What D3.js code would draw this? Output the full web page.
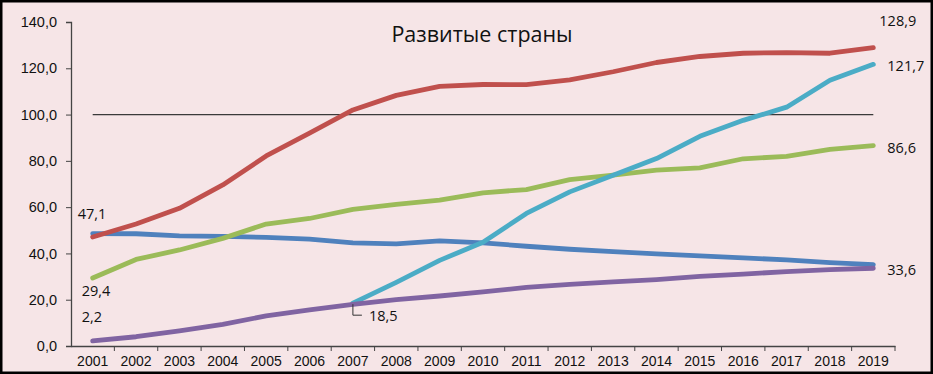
<!DOCTYPE html>
<html>
<head>
<meta charset="utf-8">
<script src="https://cdn.jsdelivr.net/npm/d3@7"></script>
<style>
  html, body { margin: 0; padding: 0; background: #fff; }
  svg { display: block; font-family: "Open Sans", "Noto Sans", sans-serif; }
</style>
</head>
<body>
<div id="chart"></div>
<script>
// ---- data ----
const years = d3.range(2001, 2020).map(String);
const redSeries = [47.1, 52.7, 59.5, 69.6, 82.1, 92.0, 102.0, 108.3, 112.2, 113.0, 112.9, 115.0, 118.5, 122.5, 125.1, 126.5, 126.8, 126.5, 128.9];
const blueSeries = [48.6, 48.5, 47.6, 47.4, 46.9, 46.2, 44.6, 44.1, 45.4, 44.6, 43.1, 41.8, 40.8, 39.8, 38.9, 38.1, 37.2, 36.0, 35.2];
const greenSeries = [29.4, 37.4, 41.5, 46.5, 52.7, 55.1, 59.0, 61.2, 63.0, 66.2, 67.6, 71.9, 73.8, 76.0, 77.0, 80.9, 81.9, 85.0, 86.6];
const cyanSeries = [null, null, null, null, null, null, 18.5, 27.5, 37.0, 44.8, 57.3, 66.6, 73.8, 81.0, 90.6, 97.5, 103.2, 114.8, 121.7];
const purpleSeries = [2.2, 4.0, 6.5, 9.3, 13.0, 15.6, 18.0, 20.0, 21.6, 23.4, 25.3, 26.6, 27.7, 28.7, 30.1, 31.1, 32.1, 33.0, 33.6];
const yTicks = [0, 20, 40, 60, 80, 100, 120, 140];
const title = "Развитые страны";

const series = [
  { name: "blue", values: blueSeries, color: "#4f81bd" },
  { name: "red", values: redSeries, color: "#c0504d" },
  { name: "green", values: greenSeries, color: "#9bbb59" },
  { name: "cyan", values: cyanSeries, color: "#4bacc6" },
  { name: "purple", values: purpleSeries, color: "#8064a2" }
];

// value labels: which point, and offset from it
const valueLabels = [
  { values: redSeries, i: 0, dx: -15, dy: -23 },
  { values: greenSeries, i: 0, dx: -11, dy: 13 },
  { values: purpleSeries, i: 0, dx: -11, dy: -24 },
  { values: redSeries, i: 18, dx: 6, dy: -27 },
  { values: cyanSeries, i: 18, dx: 14, dy: 2 },
  { values: greenSeries, i: 18, dx: 14, dy: 2 },
  { values: purpleSeries, i: 18, dx: 14, dy: 2 },
  { values: cyanSeries, i: 6, dx: 16, dy: 13 }
];

const fmt = v => v.toFixed(1).replace(".", ",");

// ---- layout ----
const width = 933, height = 374;
const margin = { top: 22, right: 38, bottom: 28, left: 71 };
const innerWidth = width - margin.left - margin.right;
const innerHeight = height - margin.top - margin.bottom;

const svg = d3.select("#chart").append("svg")
  .attr("width", width)
  .attr("height", height);

// background + frame
svg.append("rect")
  .attr("x", 1).attr("y", 1)
  .attr("width", width - 2).attr("height", height - 2)
  .attr("fill", "#f6e5e7")
  .attr("stroke", "#000")
  .attr("stroke-width", 3);

const g = svg.append("g")
  .attr("transform", `translate(${margin.left},${margin.top})`);

const x = d3.scaleBand().domain(years).range([0, innerWidth]);
const y = d3.scaleLinear().domain([0, 140]).range([innerHeight, 0]);
const cx = i => x(years[i]) + x.bandwidth() / 2;

// ---- axes ----
const yAxis = g.append("g")
  .call(d3.axisLeft(y).tickValues(yTicks).tickFormat(fmt).tickSizeOuter(0).tickSize(5));
yAxis.select(".domain").attr("stroke", "#444").attr("stroke-width", 1.3);
yAxis.selectAll(".tick line").attr("stroke", "#444");
yAxis.selectAll(".tick text")
  .attr("x", -14)
  .attr("fill", "#111")
  .style("font-size", "14.5px");

const xAxis = g.append("g")
  .attr("transform", `translate(0,${innerHeight})`)
  .call(d3.axisBottom(x).tickSize(0).tickSizeOuter(0));
xAxis.select(".domain").attr("stroke", "#444").attr("stroke-width", 1.3);
xAxis.selectAll(".tick text")
  .attr("y", 10)
  .attr("fill", "#111")
  .style("font-size", "14px");

// separators between categories
xAxis.selectAll(".sep")
  .data(years.slice(1).concat(["end"]))
  .join("line")
  .attr("class", "sep")
  .attr("x1", d => d === "end" ? innerWidth : x(d))
  .attr("x2", d => d === "end" ? innerWidth : x(d))
  .attr("y1", 0).attr("y2", 5)
  .attr("stroke", "#444");

// ---- reference line at 100 ----
g.append("line")
  .attr("x1", cx(0)).attr("x2", cx(years.length - 1))
  .attr("y1", y(100)).attr("y2", y(100))
  .attr("stroke", "#3a3a3a")
  .attr("stroke-width", 1.2);

// ---- lines ----
const lineGen = d3.line()
  .defined(d => d != null)
  .x((d, i) => cx(i))
  .y(d => y(d));

g.selectAll(".series")
  .data(series)
  .join("path")
  .attr("class", "series")
  .attr("fill", "none")
  .attr("stroke", d => d.color)
  .attr("stroke-width", 4.8)
  .attr("stroke-linejoin", "round")
  .attr("stroke-linecap", "round")
  .attr("d", d => lineGen(d.values));

// ---- value labels ----
g.selectAll(".vlabel")
  .data(valueLabels)
  .join("text")
  .attr("class", "vlabel")
  .attr("x", d => cx(d.i) + d.dx)
  .attr("y", d => y(d.values[d.i]) + d.dy)
  .attr("dy", "0.35em")
  .attr("fill", "#111")
  .style("font-size", "14.5px")
  .text(d => fmt(d.values[d.i]));

// leader line for the 18,5 label
const lx = cx(6), ly = y(cyanSeries[6]);
g.append("path")
  .attr("d", `M${lx},${ly + 1}V${ly + 12}H${lx + 9}`)
  .attr("fill", "none")
  .attr("stroke", "#333")
  .attr("stroke-width", 1);

// ---- title ----
svg.append("text")
  .attr("x", 482)
  .attr("y", 34)
  .attr("dy", "0.35em")
  .attr("text-anchor", "middle")
  .attr("fill", "#111")
  .style("font-size", "21.5px")
  .text(title);
</script>
</body>
</html>
